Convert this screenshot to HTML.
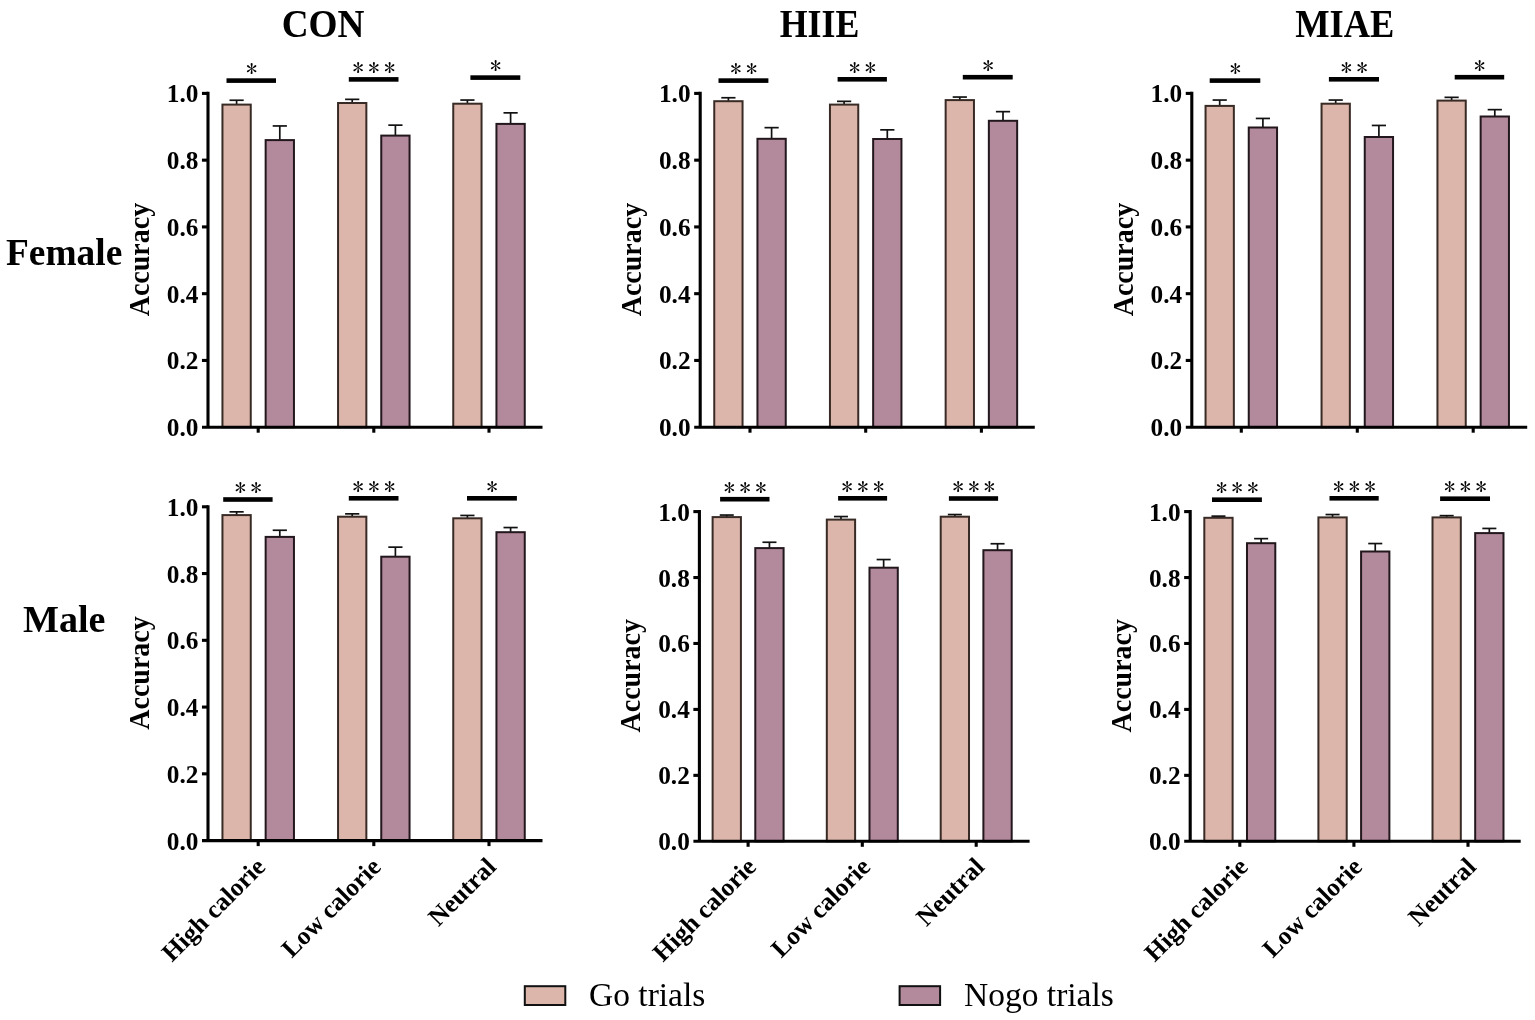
<!DOCTYPE html>
<html><head><meta charset="utf-8"><title>Accuracy</title>
<style>
html,body{margin:0;padding:0;background:#fff;}
svg{display:block;}
text{font-family:'Liberation Serif', 'Times New Roman', serif;fill:#000;}
.tk{font-size:25.3px;font-weight:bold;text-anchor:end;}
.acc{font-size:28px;font-weight:bold;text-anchor:middle;}
.xl{font-size:25.5px;font-weight:bold;text-anchor:end;}
.as{font-family:'IPAGothic','Liberation Serif',serif;font-size:22.6px;text-anchor:middle;letter-spacing:4.40px;}
.ttl{font-size:40px;font-weight:bold;text-anchor:middle;}
.row{font-size:38.5px;font-weight:bold;}
.lg{font-size:33.5px;}
</style></head>
<body>
<svg width="1535" height="1020" viewBox="0 0 1535 1020">
<rect width="1535" height="1020" fill="#fff"/>
<line x1="236.6" y1="104.6" x2="236.6" y2="100.25" stroke="#111" stroke-width="1.7"/>
<line x1="229.5" y1="100.25" x2="243.7" y2="100.25" stroke="#111" stroke-width="1.7"/>
<rect x="222.45" y="104.6" width="28.3" height="322.6" fill="#ddb6ab" stroke="#382a24" stroke-width="2.0"/>
<line x1="279.8" y1="140.1" x2="279.8" y2="125.95" stroke="#111" stroke-width="1.7"/>
<line x1="272.7" y1="125.95" x2="286.9" y2="125.95" stroke="#111" stroke-width="1.7"/>
<rect x="265.65" y="140.1" width="28.3" height="287.1" fill="#b3899c" stroke="#22171c" stroke-width="2.0"/>
<line x1="352.2" y1="103" x2="352.2" y2="99.35" stroke="#111" stroke-width="1.7"/>
<line x1="345.1" y1="99.35" x2="359.3" y2="99.35" stroke="#111" stroke-width="1.7"/>
<rect x="338.05" y="103" width="28.3" height="324.2" fill="#ddb6ab" stroke="#382a24" stroke-width="2.0"/>
<line x1="395.4" y1="135.6" x2="395.4" y2="125.15" stroke="#111" stroke-width="1.7"/>
<line x1="388.3" y1="125.15" x2="402.5" y2="125.15" stroke="#111" stroke-width="1.7"/>
<rect x="381.25" y="135.6" width="28.3" height="291.6" fill="#b3899c" stroke="#22171c" stroke-width="2.0"/>
<line x1="467.4" y1="103.7" x2="467.4" y2="100.05" stroke="#111" stroke-width="1.7"/>
<line x1="460.3" y1="100.05" x2="474.5" y2="100.05" stroke="#111" stroke-width="1.7"/>
<rect x="453.25" y="103.7" width="28.3" height="323.5" fill="#ddb6ab" stroke="#382a24" stroke-width="2.0"/>
<line x1="510.6" y1="123.9" x2="510.6" y2="112.85" stroke="#111" stroke-width="1.7"/>
<line x1="503.5" y1="112.85" x2="517.7" y2="112.85" stroke="#111" stroke-width="1.7"/>
<rect x="496.45" y="123.9" width="28.3" height="303.3" fill="#b3899c" stroke="#22171c" stroke-width="2.0"/>
<line x1="208" y1="91.85" x2="208" y2="427.2" stroke="#000" stroke-width="3.1"/>
<line x1="202" y1="427.2" x2="542.5" y2="427.2" stroke="#000" stroke-width="3.1"/>
<text x="198.4" y="436.2" class="tk">0.0</text>
<line x1="201.95" y1="360.44" x2="208" y2="360.44" stroke="#000" stroke-width="3.1"/>
<text x="198.4" y="369.44" class="tk">0.2</text>
<line x1="201.95" y1="293.68" x2="208" y2="293.68" stroke="#000" stroke-width="3.1"/>
<text x="198.4" y="302.68" class="tk">0.4</text>
<line x1="201.95" y1="226.92" x2="208" y2="226.92" stroke="#000" stroke-width="3.1"/>
<text x="198.4" y="235.92" class="tk">0.6</text>
<line x1="201.95" y1="160.16" x2="208" y2="160.16" stroke="#000" stroke-width="3.1"/>
<text x="198.4" y="169.16" class="tk">0.8</text>
<line x1="201.95" y1="93.4" x2="208" y2="93.4" stroke="#000" stroke-width="3.1"/>
<text x="198.4" y="102.4" class="tk">1.0</text>
<line x1="258.2" y1="427.2" x2="258.2" y2="432.7" stroke="#000" stroke-width="3.1"/>
<line x1="373.8" y1="427.2" x2="373.8" y2="432.7" stroke="#000" stroke-width="3.1"/>
<line x1="489" y1="427.2" x2="489" y2="432.7" stroke="#000" stroke-width="3.1"/>
<rect x="226.5" y="78.3" width="49.5" height="4.6" fill="#000"/>
<text x="253.75" y="77.25" class="as">*</text>
<rect x="348.8" y="77.1" width="49.7" height="4.6" fill="#000"/>
<text x="376.15" y="76.05" class="as">***</text>
<rect x="470.4" y="75.3" width="49.9" height="4.6" fill="#000"/>
<text x="497.85" y="74.25" class="as">*</text>
<text transform="translate(149,259.6) rotate(-90) scale(1,1.08)" class="acc">Accuracy</text>
<line x1="728.4" y1="101.2" x2="728.4" y2="97.75" stroke="#111" stroke-width="1.7"/>
<line x1="721.3" y1="97.75" x2="735.5" y2="97.75" stroke="#111" stroke-width="1.7"/>
<rect x="714.25" y="101.2" width="28.3" height="326" fill="#ddb6ab" stroke="#382a24" stroke-width="2.0"/>
<line x1="771.6" y1="138.8" x2="771.6" y2="127.65" stroke="#111" stroke-width="1.7"/>
<line x1="764.5" y1="127.65" x2="778.7" y2="127.65" stroke="#111" stroke-width="1.7"/>
<rect x="757.45" y="138.8" width="28.3" height="288.4" fill="#b3899c" stroke="#22171c" stroke-width="2.0"/>
<line x1="844.1" y1="104.6" x2="844.1" y2="101.35" stroke="#111" stroke-width="1.7"/>
<line x1="837" y1="101.35" x2="851.2" y2="101.35" stroke="#111" stroke-width="1.7"/>
<rect x="829.95" y="104.6" width="28.3" height="322.6" fill="#ddb6ab" stroke="#382a24" stroke-width="2.0"/>
<line x1="887.3" y1="139" x2="887.3" y2="129.85" stroke="#111" stroke-width="1.7"/>
<line x1="880.2" y1="129.85" x2="894.4" y2="129.85" stroke="#111" stroke-width="1.7"/>
<rect x="873.15" y="139" width="28.3" height="288.2" fill="#b3899c" stroke="#22171c" stroke-width="2.0"/>
<line x1="959.8" y1="100.1" x2="959.8" y2="97.05" stroke="#111" stroke-width="1.7"/>
<line x1="952.7" y1="97.05" x2="966.9" y2="97.05" stroke="#111" stroke-width="1.7"/>
<rect x="945.65" y="100.1" width="28.3" height="327.1" fill="#ddb6ab" stroke="#382a24" stroke-width="2.0"/>
<line x1="1003" y1="120.8" x2="1003" y2="111.65" stroke="#111" stroke-width="1.7"/>
<line x1="995.9" y1="111.65" x2="1010.1" y2="111.65" stroke="#111" stroke-width="1.7"/>
<rect x="988.85" y="120.8" width="28.3" height="306.4" fill="#b3899c" stroke="#22171c" stroke-width="2.0"/>
<line x1="700.2" y1="91.85" x2="700.2" y2="427.2" stroke="#000" stroke-width="3.1"/>
<line x1="694.2" y1="427.2" x2="1034.8" y2="427.2" stroke="#000" stroke-width="3.1"/>
<text x="690.6" y="436.2" class="tk">0.0</text>
<line x1="694.15" y1="360.44" x2="700.2" y2="360.44" stroke="#000" stroke-width="3.1"/>
<text x="690.6" y="369.44" class="tk">0.2</text>
<line x1="694.15" y1="293.68" x2="700.2" y2="293.68" stroke="#000" stroke-width="3.1"/>
<text x="690.6" y="302.68" class="tk">0.4</text>
<line x1="694.15" y1="226.92" x2="700.2" y2="226.92" stroke="#000" stroke-width="3.1"/>
<text x="690.6" y="235.92" class="tk">0.6</text>
<line x1="694.15" y1="160.16" x2="700.2" y2="160.16" stroke="#000" stroke-width="3.1"/>
<text x="690.6" y="169.16" class="tk">0.8</text>
<line x1="694.15" y1="93.4" x2="700.2" y2="93.4" stroke="#000" stroke-width="3.1"/>
<text x="690.6" y="102.4" class="tk">1.0</text>
<line x1="750" y1="427.2" x2="750" y2="432.7" stroke="#000" stroke-width="3.1"/>
<line x1="865.7" y1="427.2" x2="865.7" y2="432.7" stroke="#000" stroke-width="3.1"/>
<line x1="981.4" y1="427.2" x2="981.4" y2="432.7" stroke="#000" stroke-width="3.1"/>
<rect x="718.5" y="78.3" width="49.9" height="4.6" fill="#000"/>
<text x="745.95" y="77.25" class="as">**</text>
<rect x="837.6" y="77" width="49.3" height="4.6" fill="#000"/>
<text x="864.75" y="75.95" class="as">**</text>
<rect x="962.8" y="74.9" width="49.9" height="4.6" fill="#000"/>
<text x="990.25" y="73.85" class="as">*</text>
<text transform="translate(641.2,259.6) rotate(-90) scale(1,1.08)" class="acc">Accuracy</text>
<line x1="1219.7" y1="105.9" x2="1219.7" y2="100.05" stroke="#111" stroke-width="1.7"/>
<line x1="1212.6" y1="100.05" x2="1226.8" y2="100.05" stroke="#111" stroke-width="1.7"/>
<rect x="1205.55" y="105.9" width="28.3" height="321.3" fill="#ddb6ab" stroke="#382a24" stroke-width="2.0"/>
<line x1="1262.9" y1="127.5" x2="1262.9" y2="118.45" stroke="#111" stroke-width="1.7"/>
<line x1="1255.8" y1="118.45" x2="1270" y2="118.45" stroke="#111" stroke-width="1.7"/>
<rect x="1248.75" y="127.5" width="28.3" height="299.7" fill="#b3899c" stroke="#22171c" stroke-width="2.0"/>
<line x1="1335.7" y1="103.7" x2="1335.7" y2="100.05" stroke="#111" stroke-width="1.7"/>
<line x1="1328.6" y1="100.05" x2="1342.8" y2="100.05" stroke="#111" stroke-width="1.7"/>
<rect x="1321.55" y="103.7" width="28.3" height="323.5" fill="#ddb6ab" stroke="#382a24" stroke-width="2.0"/>
<line x1="1378.9" y1="137" x2="1378.9" y2="125.45" stroke="#111" stroke-width="1.7"/>
<line x1="1371.8" y1="125.45" x2="1386" y2="125.45" stroke="#111" stroke-width="1.7"/>
<rect x="1364.75" y="137" width="28.3" height="290.2" fill="#b3899c" stroke="#22171c" stroke-width="2.0"/>
<line x1="1451.6" y1="100.6" x2="1451.6" y2="97.35" stroke="#111" stroke-width="1.7"/>
<line x1="1444.5" y1="97.35" x2="1458.7" y2="97.35" stroke="#111" stroke-width="1.7"/>
<rect x="1437.45" y="100.6" width="28.3" height="326.6" fill="#ddb6ab" stroke="#382a24" stroke-width="2.0"/>
<line x1="1494.8" y1="116.5" x2="1494.8" y2="109.65" stroke="#111" stroke-width="1.7"/>
<line x1="1487.7" y1="109.65" x2="1501.9" y2="109.65" stroke="#111" stroke-width="1.7"/>
<rect x="1480.65" y="116.5" width="28.3" height="310.7" fill="#b3899c" stroke="#22171c" stroke-width="2.0"/>
<line x1="1191.8" y1="91.85" x2="1191.8" y2="427.2" stroke="#000" stroke-width="3.1"/>
<line x1="1185.8" y1="427.2" x2="1527.2" y2="427.2" stroke="#000" stroke-width="3.1"/>
<text x="1182.2" y="436.2" class="tk">0.0</text>
<line x1="1185.75" y1="360.44" x2="1191.8" y2="360.44" stroke="#000" stroke-width="3.1"/>
<text x="1182.2" y="369.44" class="tk">0.2</text>
<line x1="1185.75" y1="293.68" x2="1191.8" y2="293.68" stroke="#000" stroke-width="3.1"/>
<text x="1182.2" y="302.68" class="tk">0.4</text>
<line x1="1185.75" y1="226.92" x2="1191.8" y2="226.92" stroke="#000" stroke-width="3.1"/>
<text x="1182.2" y="235.92" class="tk">0.6</text>
<line x1="1185.75" y1="160.16" x2="1191.8" y2="160.16" stroke="#000" stroke-width="3.1"/>
<text x="1182.2" y="169.16" class="tk">0.8</text>
<line x1="1185.75" y1="93.4" x2="1191.8" y2="93.4" stroke="#000" stroke-width="3.1"/>
<text x="1182.2" y="102.4" class="tk">1.0</text>
<line x1="1241.3" y1="427.2" x2="1241.3" y2="432.7" stroke="#000" stroke-width="3.1"/>
<line x1="1357.3" y1="427.2" x2="1357.3" y2="432.7" stroke="#000" stroke-width="3.1"/>
<line x1="1473.2" y1="427.2" x2="1473.2" y2="432.7" stroke="#000" stroke-width="3.1"/>
<rect x="1209.7" y="78.3" width="50.6" height="4.6" fill="#000"/>
<text x="1237.5" y="77.25" class="as">*</text>
<rect x="1328.9" y="77" width="50.1" height="4.6" fill="#000"/>
<text x="1356.45" y="75.95" class="as">**</text>
<rect x="1454.7" y="74.9" width="49.5" height="4.6" fill="#000"/>
<text x="1481.95" y="73.85" class="as">*</text>
<text transform="translate(1132.8,259.6) rotate(-90) scale(1,1.08)" class="acc">Accuracy</text>
<line x1="236.6" y1="515.1" x2="236.6" y2="511.85" stroke="#111" stroke-width="1.7"/>
<line x1="229.5" y1="511.85" x2="243.7" y2="511.85" stroke="#111" stroke-width="1.7"/>
<rect x="222.45" y="515.1" width="28.3" height="325.5" fill="#ddb6ab" stroke="#382a24" stroke-width="2.0"/>
<line x1="279.8" y1="536.9" x2="279.8" y2="530.25" stroke="#111" stroke-width="1.7"/>
<line x1="272.7" y1="530.25" x2="286.9" y2="530.25" stroke="#111" stroke-width="1.7"/>
<rect x="265.65" y="536.9" width="28.3" height="303.7" fill="#b3899c" stroke="#22171c" stroke-width="2.0"/>
<line x1="352.2" y1="516.7" x2="352.2" y2="513.85" stroke="#111" stroke-width="1.7"/>
<line x1="345.1" y1="513.85" x2="359.3" y2="513.85" stroke="#111" stroke-width="1.7"/>
<rect x="338.05" y="516.7" width="28.3" height="323.9" fill="#ddb6ab" stroke="#382a24" stroke-width="2.0"/>
<line x1="395.4" y1="556.7" x2="395.4" y2="547.15" stroke="#111" stroke-width="1.7"/>
<line x1="388.3" y1="547.15" x2="402.5" y2="547.15" stroke="#111" stroke-width="1.7"/>
<rect x="381.25" y="556.7" width="28.3" height="283.9" fill="#b3899c" stroke="#22171c" stroke-width="2.0"/>
<line x1="467.4" y1="518.3" x2="467.4" y2="515.45" stroke="#111" stroke-width="1.7"/>
<line x1="460.3" y1="515.45" x2="474.5" y2="515.45" stroke="#111" stroke-width="1.7"/>
<rect x="453.25" y="518.3" width="28.3" height="322.3" fill="#ddb6ab" stroke="#382a24" stroke-width="2.0"/>
<line x1="510.6" y1="532.2" x2="510.6" y2="527.55" stroke="#111" stroke-width="1.7"/>
<line x1="503.5" y1="527.55" x2="517.7" y2="527.55" stroke="#111" stroke-width="1.7"/>
<rect x="496.45" y="532.2" width="28.3" height="308.4" fill="#b3899c" stroke="#22171c" stroke-width="2.0"/>
<line x1="208" y1="505.25" x2="208" y2="840.6" stroke="#000" stroke-width="3.1"/>
<line x1="202" y1="840.6" x2="542.5" y2="840.6" stroke="#000" stroke-width="3.1"/>
<text x="198.4" y="849.6" class="tk">0.0</text>
<line x1="201.95" y1="773.84" x2="208" y2="773.84" stroke="#000" stroke-width="3.1"/>
<text x="198.4" y="782.84" class="tk">0.2</text>
<line x1="201.95" y1="707.08" x2="208" y2="707.08" stroke="#000" stroke-width="3.1"/>
<text x="198.4" y="716.08" class="tk">0.4</text>
<line x1="201.95" y1="640.32" x2="208" y2="640.32" stroke="#000" stroke-width="3.1"/>
<text x="198.4" y="649.32" class="tk">0.6</text>
<line x1="201.95" y1="573.56" x2="208" y2="573.56" stroke="#000" stroke-width="3.1"/>
<text x="198.4" y="582.56" class="tk">0.8</text>
<line x1="201.95" y1="506.8" x2="208" y2="506.8" stroke="#000" stroke-width="3.1"/>
<text x="198.4" y="515.8" class="tk">1.0</text>
<line x1="258.2" y1="840.6" x2="258.2" y2="846.1" stroke="#000" stroke-width="3.1"/>
<line x1="373.8" y1="840.6" x2="373.8" y2="846.1" stroke="#000" stroke-width="3.1"/>
<line x1="489" y1="840.6" x2="489" y2="846.1" stroke="#000" stroke-width="3.1"/>
<rect x="223.2" y="497.2" width="49.4" height="4.6" fill="#000"/>
<text x="250.4" y="496.15" class="as">**</text>
<rect x="348.8" y="496" width="49.7" height="4.6" fill="#000"/>
<text x="376.15" y="494.95" class="as">***</text>
<rect x="467" y="496" width="49.9" height="4.6" fill="#000"/>
<text x="494.45" y="494.95" class="as">*</text>
<text transform="translate(149,673) rotate(-90) scale(1,1.08)" class="acc">Accuracy</text>
<text transform="translate(266.7,868.2) rotate(-45)" class="xl">High calorie</text>
<text transform="translate(382.3,868.2) rotate(-45)" class="xl">Low calorie</text>
<text transform="translate(497.5,868.2) rotate(-45)" class="xl">Neutral</text>
<line x1="726.76" y1="517.1" x2="726.76" y2="515.05" stroke="#111" stroke-width="1.7"/>
<line x1="719.74" y1="515.05" x2="733.77" y2="515.05" stroke="#111" stroke-width="1.7"/>
<rect x="712.61" y="517.1" width="28.3" height="324.2" fill="#ddb6ab" stroke="#382a24" stroke-width="2.0"/>
<line x1="769.44" y1="548.1" x2="769.44" y2="542.25" stroke="#111" stroke-width="1.7"/>
<line x1="762.43" y1="542.25" x2="776.46" y2="542.25" stroke="#111" stroke-width="1.7"/>
<rect x="755.29" y="548.1" width="28.3" height="293.2" fill="#b3899c" stroke="#22171c" stroke-width="2.0"/>
<line x1="840.96" y1="519.6" x2="840.96" y2="516.55" stroke="#111" stroke-width="1.7"/>
<line x1="833.94" y1="516.55" x2="847.97" y2="516.55" stroke="#111" stroke-width="1.7"/>
<rect x="826.81" y="519.6" width="28.3" height="321.7" fill="#ddb6ab" stroke="#382a24" stroke-width="2.0"/>
<line x1="883.64" y1="567.7" x2="883.64" y2="559.55" stroke="#111" stroke-width="1.7"/>
<line x1="876.63" y1="559.55" x2="890.66" y2="559.55" stroke="#111" stroke-width="1.7"/>
<rect x="869.49" y="567.7" width="28.3" height="273.6" fill="#b3899c" stroke="#22171c" stroke-width="2.0"/>
<line x1="954.86" y1="516.7" x2="954.86" y2="514.55" stroke="#111" stroke-width="1.7"/>
<line x1="947.84" y1="514.55" x2="961.87" y2="514.55" stroke="#111" stroke-width="1.7"/>
<rect x="940.71" y="516.7" width="28.3" height="324.6" fill="#ddb6ab" stroke="#382a24" stroke-width="2.0"/>
<line x1="997.54" y1="550.2" x2="997.54" y2="543.75" stroke="#111" stroke-width="1.7"/>
<line x1="990.53" y1="543.75" x2="1004.56" y2="543.75" stroke="#111" stroke-width="1.7"/>
<rect x="983.39" y="550.2" width="28.3" height="291.1" fill="#b3899c" stroke="#22171c" stroke-width="2.0"/>
<line x1="699.4" y1="510.05" x2="699.4" y2="841.3" stroke="#000" stroke-width="3.1"/>
<line x1="693.4" y1="841.3" x2="1029.6" y2="841.3" stroke="#000" stroke-width="3.1"/>
<text x="689.8" y="850.3" class="tk">0.0</text>
<line x1="693.35" y1="775.36" x2="699.4" y2="775.36" stroke="#000" stroke-width="3.1"/>
<text x="689.8" y="784.36" class="tk">0.2</text>
<line x1="693.35" y1="709.42" x2="699.4" y2="709.42" stroke="#000" stroke-width="3.1"/>
<text x="689.8" y="718.42" class="tk">0.4</text>
<line x1="693.35" y1="643.48" x2="699.4" y2="643.48" stroke="#000" stroke-width="3.1"/>
<text x="689.8" y="652.48" class="tk">0.6</text>
<line x1="693.35" y1="577.54" x2="699.4" y2="577.54" stroke="#000" stroke-width="3.1"/>
<text x="689.8" y="586.54" class="tk">0.8</text>
<line x1="693.35" y1="511.6" x2="699.4" y2="511.6" stroke="#000" stroke-width="3.1"/>
<text x="689.8" y="520.6" class="tk">1.0</text>
<line x1="748.1" y1="841.3" x2="748.1" y2="846.8" stroke="#000" stroke-width="3.1"/>
<line x1="862.3" y1="841.3" x2="862.3" y2="846.8" stroke="#000" stroke-width="3.1"/>
<line x1="976.2" y1="841.3" x2="976.2" y2="846.8" stroke="#000" stroke-width="3.1"/>
<rect x="720.1" y="496.9" width="49.4" height="4.6" fill="#000"/>
<text x="747.3" y="495.85" class="as">***</text>
<rect x="838.1" y="496" width="49" height="4.6" fill="#000"/>
<text x="865.1" y="494.95" class="as">***</text>
<rect x="948.9" y="496.2" width="49.2" height="4.6" fill="#000"/>
<text x="976" y="495.15" class="as">***</text>
<text transform="translate(640.4,675.75) rotate(-90) scale(1,1.08)" class="acc">Accuracy</text>
<text transform="translate(757.6,868.2) rotate(-45)" class="xl">High calorie</text>
<text transform="translate(871.8,868.2) rotate(-45)" class="xl">Low calorie</text>
<text transform="translate(985.7,868.2) rotate(-45)" class="xl">Neutral</text>
<line x1="1218.46" y1="517.8" x2="1218.46" y2="516.15" stroke="#111" stroke-width="1.7"/>
<line x1="1211.44" y1="516.15" x2="1225.47" y2="516.15" stroke="#111" stroke-width="1.7"/>
<rect x="1204.31" y="517.8" width="28.3" height="323.5" fill="#ddb6ab" stroke="#382a24" stroke-width="2.0"/>
<line x1="1261.14" y1="543.2" x2="1261.14" y2="538.65" stroke="#111" stroke-width="1.7"/>
<line x1="1254.13" y1="538.65" x2="1268.16" y2="538.65" stroke="#111" stroke-width="1.7"/>
<rect x="1246.99" y="543.2" width="28.3" height="298.1" fill="#b3899c" stroke="#22171c" stroke-width="2.0"/>
<line x1="1332.56" y1="517.4" x2="1332.56" y2="514.55" stroke="#111" stroke-width="1.7"/>
<line x1="1325.54" y1="514.55" x2="1339.57" y2="514.55" stroke="#111" stroke-width="1.7"/>
<rect x="1318.41" y="517.4" width="28.3" height="323.9" fill="#ddb6ab" stroke="#382a24" stroke-width="2.0"/>
<line x1="1375.24" y1="551.5" x2="1375.24" y2="543.55" stroke="#111" stroke-width="1.7"/>
<line x1="1368.23" y1="543.55" x2="1382.26" y2="543.55" stroke="#111" stroke-width="1.7"/>
<rect x="1361.09" y="551.5" width="28.3" height="289.8" fill="#b3899c" stroke="#22171c" stroke-width="2.0"/>
<line x1="1446.66" y1="517.4" x2="1446.66" y2="515.65" stroke="#111" stroke-width="1.7"/>
<line x1="1439.64" y1="515.65" x2="1453.67" y2="515.65" stroke="#111" stroke-width="1.7"/>
<rect x="1432.51" y="517.4" width="28.3" height="323.9" fill="#ddb6ab" stroke="#382a24" stroke-width="2.0"/>
<line x1="1489.34" y1="533.1" x2="1489.34" y2="528.45" stroke="#111" stroke-width="1.7"/>
<line x1="1482.33" y1="528.45" x2="1496.36" y2="528.45" stroke="#111" stroke-width="1.7"/>
<rect x="1475.19" y="533.1" width="28.3" height="308.2" fill="#b3899c" stroke="#22171c" stroke-width="2.0"/>
<line x1="1190.2" y1="510.05" x2="1190.2" y2="841.3" stroke="#000" stroke-width="3.1"/>
<line x1="1184.2" y1="841.3" x2="1520.7" y2="841.3" stroke="#000" stroke-width="3.1"/>
<text x="1180.6" y="850.3" class="tk">0.0</text>
<line x1="1184.15" y1="775.36" x2="1190.2" y2="775.36" stroke="#000" stroke-width="3.1"/>
<text x="1180.6" y="784.36" class="tk">0.2</text>
<line x1="1184.15" y1="709.42" x2="1190.2" y2="709.42" stroke="#000" stroke-width="3.1"/>
<text x="1180.6" y="718.42" class="tk">0.4</text>
<line x1="1184.15" y1="643.48" x2="1190.2" y2="643.48" stroke="#000" stroke-width="3.1"/>
<text x="1180.6" y="652.48" class="tk">0.6</text>
<line x1="1184.15" y1="577.54" x2="1190.2" y2="577.54" stroke="#000" stroke-width="3.1"/>
<text x="1180.6" y="586.54" class="tk">0.8</text>
<line x1="1184.15" y1="511.6" x2="1190.2" y2="511.6" stroke="#000" stroke-width="3.1"/>
<text x="1180.6" y="520.6" class="tk">1.0</text>
<line x1="1239.8" y1="841.3" x2="1239.8" y2="846.8" stroke="#000" stroke-width="3.1"/>
<line x1="1353.9" y1="841.3" x2="1353.9" y2="846.8" stroke="#000" stroke-width="3.1"/>
<line x1="1468" y1="841.3" x2="1468" y2="846.8" stroke="#000" stroke-width="3.1"/>
<rect x="1212" y="497.4" width="49.9" height="4.6" fill="#000"/>
<text x="1239.45" y="496.35" class="as">***</text>
<rect x="1329.5" y="496" width="49.2" height="4.6" fill="#000"/>
<text x="1356.6" y="494.95" class="as">***</text>
<rect x="1440.1" y="496.4" width="49.9" height="4.6" fill="#000"/>
<text x="1467.55" y="495.35" class="as">***</text>
<text transform="translate(1131.2,675.75) rotate(-90) scale(1,1.08)" class="acc">Accuracy</text>
<text transform="translate(1249.3,868.2) rotate(-45)" class="xl">High calorie</text>
<text transform="translate(1363.4,868.2) rotate(-45)" class="xl">Low calorie</text>
<text transform="translate(1477.5,868.2) rotate(-45)" class="xl">Neutral</text>
<text transform="translate(323.05,37) scale(0.931,1)" class="ttl">CON</text>
<text transform="translate(819.5,37) scale(0.895,1)" class="ttl">HIIE</text>
<text transform="translate(1344.8,37) scale(0.911,1)" class="ttl">MIAE</text>
<text transform="translate(6,265.4) scale(0.972,1)" class="row">Female</text>
<text transform="translate(23,632.1) scale(0.99,1)" class="row">Male</text>
<rect x="524.8" y="986.2" width="40.5" height="18.8" fill="#ddb6ab" stroke="#111" stroke-width="2"/>
<text x="589" y="1005.8" class="lg">Go trials</text>
<rect x="899.6" y="986.2" width="40.5" height="18.8" fill="#b3899c" stroke="#111" stroke-width="2"/>
<text x="964" y="1005.5" class="lg">Nogo trials</text>
</svg>
</body></html>
